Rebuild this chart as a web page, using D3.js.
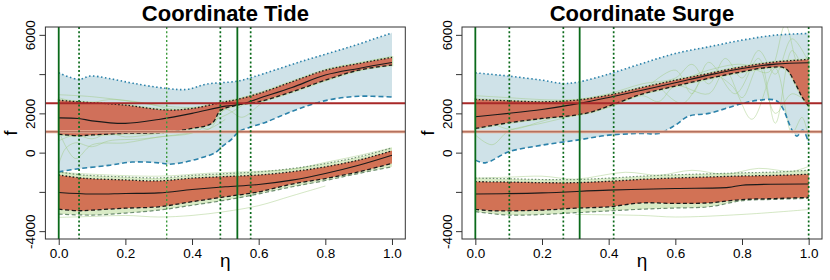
<!DOCTYPE html>
<html>
<head>
<meta charset="utf-8">
<script src="https://cdn.jsdelivr.net/npm/d3@7"></script>
<style>
  body { margin: 0; background: white; }
  svg { font-family: "Liberation Sans", Arial, sans-serif; }
</style>
</head>
<body>
<script>
// axis ticks
var xTicks = [0, 0.2, 0.4, 0.6, 0.8, 1.0];
var yTicks = [-4000, -2000, 0, 2000, 4000, 6000];
var yTickLabels = ["-4000", "", "0", "2000", "", "6000"];
var hLines = [2520, 1060];

// ---- Coordinate Tide ----
var tideBlueUp = [[0,4065],[.06,3730],[.094,3900],[.15,3780],[.224,3530],[.324,3270],[.384,3220],[.444,3490],[.536,3640],[.584,3860],[.724,4625],[.874,5390],[1,6100]];
var tideBlueLo = [[0,-980],[.06,-820],[.15,-650],[.22,-480],[.3,-520],[.33,-590],[.38,-480],[.43,-250],[.47,0],[.49,300],[.52,700],[.54,1060],[.58,1330],[.62,1540],[.7,2100],[.8,2650],[.9,2870],[1,2830]];
var tideRedTop = [[0,2670],[.06,2590],[.2,2420],[.324,2170],[.4,2250],[.485,2540],[.536,2710],[.6,3010],[.7,3610],[.8,4200],[.9,4540],[1,4850]];
var tideMed = [[0,1770],[.06,1740],[.1,1620],[.2,1490],[.3,1690],[.4,2000],[.5,2370],[.55,2470],[.6,2760],[.7,3320],[.8,3950],[.9,4290],[1,4590]];
var tideRedBot = [[0,940],[.06,860],[.1,900],[.2,980],[.3,1010],[.4,1230],[.46,1500],[.485,2130],[.536,2420],[.6,2590],[.7,3100],[.8,3690],[.9,4200],[1,4460]];
var tideLoOuterTop = [[0,-980],[.06,-1120],[.1,-1170],[.2,-1240],[.3,-1290],[.4,-1160],[.5,-1070],[.6,-980],[.7,-810],[.8,-560],[.9,-220],[1,240]];
var tideLoTop = [[0,-1140],[.06,-1280],[.1,-1330],[.2,-1390],[.3,-1440],[.4,-1300],[.5,-1220],[.6,-1140],[.7,-970],[.8,-720],[.9,-380],[1,90]];
var tideLoMed = [[0,-2030],[.1,-2110],[.2,-2080],[.3,-2050],[.4,-1880],[.5,-1740],[.6,-1620],[.7,-1400],[.8,-1060],[.9,-640],[1,-130]];
var tideLoBot = [[0,-2880],[.06,-2960],[.1,-2930],[.2,-2830],[.3,-2760],[.4,-2500],[.5,-2250],[.6,-2000],[.7,-1600],[.8,-1320],[.9,-980],[1,-550]];
var tideLoOuterBot = [[0,-3130],[.1,-3180],[.2,-3080],[.3,-2930],[.4,-2680],[.5,-2420],[.6,-2100],[.7,-1740],[.8,-1420],[.9,-1060],[1,-720]];
var tideOutliers = [
  [[0,2950],[.1,2850],[.2,2650],[.3,2400],[.4,2300],[.5,2450],[.6,2950],[.7,3550],[.8,4150],[.9,4550],[1,4900]],
  [[0,2800],[.08,2500],[.15,2700],[.25,2550],[.35,2200],[.45,2350],[.55,2700]],
  [[0,600],[.05,900],[.1,700],[.15,1000],[.2,800],[.3,1000],[.4,1300],[.5,1900],[.55,2400]],
  [[0,-600],[.02,200],[.05,500],[.1,300],[.15,600],[.25,700],[.35,900],[.45,1200],[.5,1700]],
  [[.4,1600],[.45,1200],[.5,2200],[.55,1800],[.6,2400],[.65,3000],[.7,3400],[.8,3900]],
  [[0,1100],[.05,-300],[.1,400],[.2,500],[.3,800],[.4,1000],[.45,1500],[.5,2500],[.6,2900]],
  [[0,-3300],[.1,-3250],[.2,-3200],[.3,-3280],[.4,-3200],[.5,-3000],[.6,-2700],[.7,-2200],[.8,-1700]],
  [[0,-1000],[.1,-1100],[.3,-1200],[.45,-1050],[.6,-950],[.7,-850],[.8,-500],[.9,-150],[1,250]]
];
var tideVSolid = [0, 0.536];
var tideVDot = [0.061, 0.485, 0.576];
var tideVLight = [0.324];

// ---- Coordinate Surge ----
var surgeBlueUp = [[0,4065],[.1,3900],[.2,3690],[.264,3525],[.31,3600],[.4,4000],[.5,4540],[.6,5050],[.7,5390],[.8,5730],[.9,5985],[1,6070]];
var surgeBlueLo = [[0,-380],[.03,-520],[.1,40],[.2,380],[.31,650],[.4,890],[.5,980],[.55,980],[.6,1400],[.64,1860],[.7,2000],[.8,2500],[.85,2670],[.9,2670],[.92,2330],[.95,1150],[.965,840],[.982,1150],[1,500]];
var surgeRedTop = [[0,2710],[.1,2640],[.2,2590],[.3,2670],[.4,2930],[.5,3320],[.6,3690],[.7,4030],[.8,4370],[.9,4620],[1,4750]];
var surgeMed = [[0,1830],[.1,2000],[.2,2200],[.3,2470],[.4,2810],[.5,3180],[.6,3560],[.7,3950],[.8,4290],[.9,4510],[1,4580]];
var surgeRedBot = [[0,1230],[.1,1520],[.2,1740],[.3,1910],[.35,2080],[.4,2370],[.5,2980],[.6,3390],[.7,3780],[.8,4120],[.88,4340],[.93,4290],[.96,3520],[.98,2840],[1,2370]];
var surgeLoOuterTop = [[0,-1300],[.1,-1330],[.2,-1370],[.3,-1370],[.4,-1300],[.5,-1200],[.6,-1130],[.7,-1080],[.8,-1030],[.9,-990],[1,-900]];
var surgeLoTop = [[0,-1480],[.1,-1500],[.2,-1530],[.3,-1530],[.4,-1460],[.5,-1360],[.6,-1290],[.7,-1240],[.8,-1190],[.9,-1160],[1,-1100]];
var surgeLoMed = [[0,-2110],[.2,-2050],[.4,-1910],[.6,-1830],[.76,-1770],[.8,-1660],[1,-1600]];
var surgeLoBot = [[0,-2890],[.05,-2960],[.2,-2930],[.3,-2830],[.4,-2760],[.5,-2560],[.6,-2590],[.7,-2560],[.8,-2390],[.9,-2340],[1,-2280]];
var surgeLoOuterBot = [[0,-3010],[.1,-3180],[.2,-3150],[.3,-3060],[.4,-2970],[.5,-2880],[.6,-2820],[.7,-2760],[.8,-2450],[.9,-2380],[1,-2330]];
var surgeOutliers = [
  [[0,2900],[.1,2800],[.2,2700],[.3,2700],[.4,3000],[.5,3500],[.6,3800],[.65,4500],[.7,3500],[.75,4800],[.8,3800],[.85,5200],[.9,4000],[.95,5800],[1,4600]],
  [[0,900],[.05,400],[.1,1100],[.2,1500],[.3,1900],[.4,2300],[.5,2900],[.55,2600],[.6,3400],[.7,3000],[.75,4200],[.8,2800],[.85,4400],[.9,2000],[.95,3000],[1,2500]],
  [[.5,3100],[.6,4200],[.65,3000],[.7,4600],[.78,3000],[.85,4800],[.9,1500],[.95,5200],[1,3500]],
  [[0,2000],[.1,1200],[.2,1600],[.3,2100],[.4,2600],[.5,3300],[.6,3600],[.7,4200],[.8,4500],[.88,4100],[.93,6500],[.97,4500],[1,5000]],
  [[.55,3400],[.62,2500],[.7,4000],[.77,3400],[.83,1700],[.9,4300],[.95,1000],[.98,1800],[1,700]],
  [[.3,-3150],[.5,-3200],[.6,-3280],[.8,-3150],[1,-2900]],
  [[0,-1300],[.1,-1250],[.2,-1200],[.3,-1350],[.45,-1000],[.55,-1150],[.65,-900],[.75,-1100],[.85,-800],[.95,-950],[1,-700]]
];
var surgeVSolid = [0, 0.313];
var surgeVDot = [0.102, 0.264, 0.415, 1.0];
var surgeVLight = [];

var panels = [
  {title: "Coordinate Tide", left: 45.4, right: 405.3,
   blueUp: tideBlueUp, blueLo: tideBlueLo, redTop: tideRedTop, med: tideMed, redBot: tideRedBot,
   loOuterTop: tideLoOuterTop, loTop: tideLoTop, loMed: tideLoMed, loBot: tideLoBot, loOuterBot: tideLoOuterBot,
   outliers: tideOutliers, vSolid: tideVSolid, vDot: tideVDot, vLight: tideVLight},
  {title: "Coordinate Surge", left: 462, right: 822,
   blueUp: surgeBlueUp, blueLo: surgeBlueLo, redTop: surgeRedTop, med: surgeMed, redBot: surgeRedBot,
   loOuterTop: surgeLoOuterTop, loTop: surgeLoTop, loMed: surgeLoMed, loBot: surgeLoBot, loOuterBot: surgeLoOuterBot,
   outliers: surgeOutliers, vSolid: surgeVSolid, vDot: surgeVDot, vLight: surgeVLight}
];

drawChart();

function drawChart(){
    let width = 830, height = 280;
    let plotTop = 27, plotBottom = 239;
    let font = "Liberation Sans, Arial, sans-serif";

    let svg = d3.select("body").append("svg")
        .attr("width", width)
        .attr("height", height);

    let y = d3.scaleLinear().domain([-4400, 6400]).range([plotBottom, plotTop]);

    panels.forEach((p, i) => {
        let x = d3.scaleLinear().domain([-0.04, 1.04]).range([p.left, p.right]);
        let line = d3.line().x(d => x(d[0])).y(d => y(d[1])).curve(d3.curveCatmullRom.alpha(0.5));
        let band = (up, lo) => line(up) + "L" + line(lo.slice().reverse()).slice(1) + "Z";

        let clipId = "clip" + i;
        svg.append("clipPath").attr("id", clipId)
            .append("rect").attr("x", p.left).attr("y", plotTop)
            .attr("width", p.right - p.left).attr("height", plotBottom - plotTop);

        let g = svg.append("g").attr("clip-path", "url(#" + clipId + ")");

        // blue envelope
        g.append("path").attr("d", band(p.blueUp, p.blueLo))
            .attr("fill", "#cfe2e8");

        // light green halo around lower group
        g.append("path").attr("d", band(p.loOuterTop, p.loOuterBot))
            .attr("fill", "#cfe6b8").attr("opacity", 0.8);

        // outlier curves
        g.selectAll("path.outlier").data(p.outliers).enter().append("path")
            .attr("class", "outlier")
            .attr("d", line)
            .attr("fill", "none")
            .attr("stroke", "#9cc97a")
            .attr("stroke-opacity", 0.55)
            .attr("stroke-width", 0.8);

        // central bands
        g.append("path").attr("d", band(p.redTop, p.redBot))
            .attr("fill", "#d0705a")
            .attr("stroke", "#b9dca0").attr("stroke-width", 2.5).attr("stroke-opacity", 0.7)
            .attr("paint-order", "stroke");
        g.append("path").attr("d", band(p.loTop, p.loBot))
            .attr("fill", "#d27255");

        // envelope lines
        g.append("path").attr("d", line(p.blueUp)).attr("fill", "none")
            .attr("stroke", "#2b82aa").attr("stroke-width", 1.6).attr("stroke-dasharray", "1.5,2.5");
        g.append("path").attr("d", line(p.blueLo)).attr("fill", "none")
            .attr("stroke", "#2b82aa").attr("stroke-width", 1.6).attr("stroke-dasharray", "5,3");

        g.append("path").attr("d", line(p.loOuterTop)).attr("fill", "none")
            .attr("stroke", "#6f8f72").attr("stroke-width", 1.2).attr("stroke-dasharray", "1.5,2");
        g.append("path").attr("d", line(p.loOuterBot)).attr("fill", "none")
            .attr("stroke", "#6f8f72").attr("stroke-width", 1.2).attr("stroke-dasharray", "4,2.5");

        [[p.redTop, "1.5,2"], [p.loTop, "1.5,2"], [p.redBot, "4,2.5"], [p.loBot, "4,2.5"]].forEach(s => {
            g.append("path").attr("d", line(s[0])).attr("fill", "none")
                .attr("stroke", "#1a1a1a").attr("stroke-width", 1.3).attr("stroke-dasharray", s[1]);
        });
        [p.med, p.loMed].forEach(s => {
            g.append("path").attr("d", line(s)).attr("fill", "none")
                .attr("stroke", "#1a1a1a").attr("stroke-width", 1.1);
        });

        // horizontal reference lines
        g.append("line").attr("x1", p.left).attr("x2", p.right)
            .attr("y1", y(hLines[0])).attr("y2", y(hLines[0]))
            .attr("stroke", "#a82828").attr("stroke-width", 2);
        g.append("line").attr("x1", p.left).attr("x2", p.right)
            .attr("y1", y(hLines[1])).attr("y2", y(hLines[1]))
            .attr("stroke", "#e8b39c").attr("stroke-width", 3);
        g.append("line").attr("x1", p.left).attr("x2", p.right)
            .attr("y1", y(hLines[1])).attr("y2", y(hLines[1]))
            .attr("stroke", "#9c5444").attr("stroke-width", 1);

        // vertical lines
        g.selectAll("line.vdot").data(p.vDot).enter().append("line")
            .attr("x1", d => x(d)).attr("x2", d => x(d)).attr("y1", plotTop).attr("y2", plotBottom)
            .attr("stroke", "#0a6a1a").attr("stroke-width", 1.7).attr("stroke-dasharray", "2,2.3");
        g.selectAll("line.vlight").data(p.vLight).enter().append("line")
            .attr("x1", d => x(d)).attr("x2", d => x(d)).attr("y1", plotTop).attr("y2", plotBottom)
            .attr("stroke", "#3c9a3c").attr("stroke-width", 1.4).attr("stroke-dasharray", "2,2.3");
        g.selectAll("line.vsolid").data(p.vSolid).enter().append("line")
            .attr("x1", d => x(d)).attr("x2", d => x(d)).attr("y1", plotTop).attr("y2", plotBottom)
            .attr("stroke", "#0a6a1a").attr("stroke-width", 1.8);

        // box
        svg.append("rect").attr("x", p.left).attr("y", plotTop)
            .attr("width", p.right - p.left).attr("height", plotBottom - plotTop)
            .attr("fill", "none").attr("stroke", "#333").attr("stroke-width", 1);

        // x axis
        let xAxis = svg.append("g").attr("transform", "translate(0," + plotBottom + ")")
            .call(d3.axisBottom(x).tickValues(xTicks).tickFormat(d3.format(".1f")).tickSize(6).tickSizeOuter(0));
        xAxis.attr("font-size", 13.5).attr("font-family", font);
        xAxis.select(".domain").remove();
        xAxis.selectAll("text").attr("fill", "#000").attr("y", 8).attr("dy", "0.8em");
        xAxis.selectAll("line").attr("stroke", "#333");

        // y axis (labels rotated, as in R)
        let yAxis = svg.append("g").attr("transform", "translate(" + p.left + ",0)")
            .call(d3.axisLeft(y).tickValues(yTicks).tickFormat((d, k) => yTickLabels[k]).tickSize(6).tickSizeOuter(0));
        yAxis.attr("font-size", 13.5).attr("font-family", font);
        yAxis.select(".domain").remove();
        yAxis.selectAll("line").attr("stroke", "#333");
        yAxis.selectAll("text")
            .attr("fill", "#000")
            .attr("text-anchor", "middle")
            .attr("x", 0).attr("y", 0).attr("dy", 0)
            .attr("transform", "translate(-10,0) rotate(-90)");

        // labels
        svg.append("text").attr("x", (p.left + p.right) / 2).attr("y", 21)
            .attr("text-anchor", "middle").attr("font-weight", "bold").attr("font-size", 22)
            .attr("font-family", font)
            .text(p.title);
        svg.append("text").attr("x", x(0.5)).attr("y", 267)
            .attr("text-anchor", "middle").attr("font-size", 19).attr("font-family", font)
            .text("η");
        svg.append("text")
            .attr("transform", "translate(" + (p.left - 28) + "," + ((plotTop + plotBottom) / 2) + ") rotate(-90)")
            .attr("text-anchor", "middle").attr("font-size", 18).attr("font-family", font)
            .text("f");
    });
}
</script>
</body>
</html>
